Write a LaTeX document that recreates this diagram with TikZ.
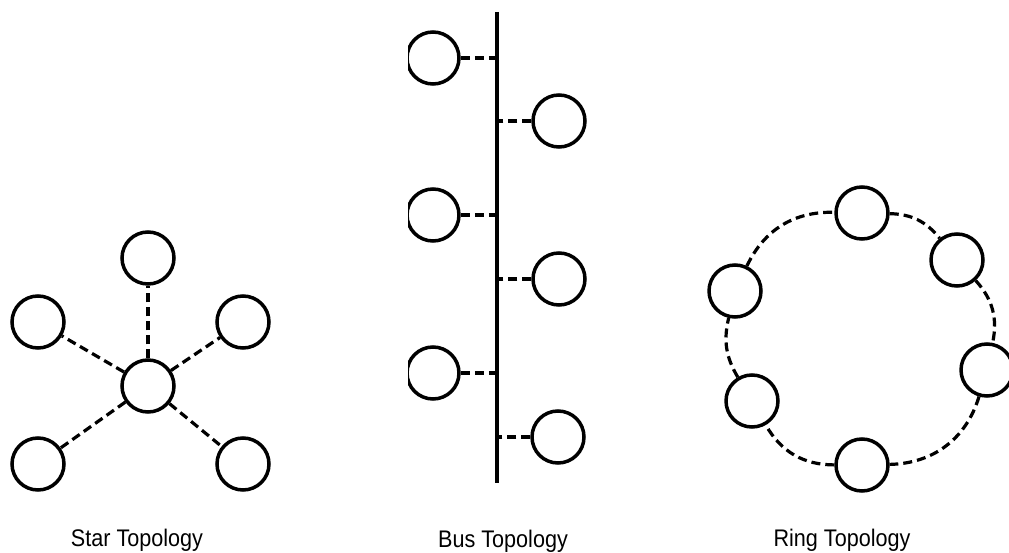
\documentclass[tikz,border=0pt]{standalone}
\usepackage{fontspec}
\setmainfont{Liberation Sans}
\newcommand{\toplabel}[1]{\scalebox{0.9}[1]{#1}}

\begin{document}
\begin{tikzpicture}[x=1pt,y=-1pt,line width=3.5pt,
  host/.style={draw,circle,fill=white,minimum size=52pt,inner sep=0pt},
  link/.style={dashed,line width=3.2pt,dash pattern=on 9pt off 5pt},
  caption/.style={font=\fontsize{24}{28}\selectfont,inner sep=0pt,anchor=base}]
\path[use as bounding box] (0,0) rectangle (1009,553);
\clip (0,0) rectangle (1009,553);
% star
\node[host] (hub) at (148,386) {};
\node[host] (s1) at (148,258) {};
\node[host] (s2) at (243,322) {};
\node[host] (s3) at (243,464) {};
\node[host] (s4) at (38,464) {};
\node[host] (s5) at (38,322) {};
\foreach \s in {s1,s2,s3,s4,s5}
  \draw[link] (hub) -- (\s);
\node[caption] (starlbl) at (137,546) {\toplabel{Star Topology}};
% bus
\coordinate (bustop) at (497,12);
\coordinate (busbot) at (497,483);
\draw[line width=3.6pt] (bustop) -- (busbot);
\begin{scope}
\clip (408,0) rectangle (497,553);
\node[host] (b1) at (433,58) {};
\node[host] (b3) at (433,215) {};
\node[host] (b5) at (433,373) {};
\end{scope}
\node[host] (b2) at (559,121) {};
\node[host] (b4) at (559,279) {};
\node[host] (b6) at (558,437) {};
\foreach \b in {1,...,6}
  \draw[link] (b\b) -- (b\b -| bustop);
\node[caption] (buslbl) at (503,547) {\toplabel{Bus Topology}};
% ring
\node[host] (r1) at (862,213) {};
\node[host] (r2) at (957,260) {};
\node[host] (r3) at (987,370) {};
\node[host] (r4) at (862,465) {};
\node[host] (r5) at (752,401) {};
\node[host] (r6) at (735,291) {};
\draw[link] (r1) to[bend left=25] (r2);
\draw[link] (r2) to[bend left=27] (r3);
\draw[link] (r3) to[bend left=36] (r4);
\draw[link] (r4) to[bend left=30] (r5);
\draw[link] (r5) to[bend left=22] (r6);
\draw[link] (r6) to[bend left=33] (r1);
\node[caption] (ringlbl) at (842,546) {\toplabel{Ring Topology}};
\end{tikzpicture}
\end{document}
